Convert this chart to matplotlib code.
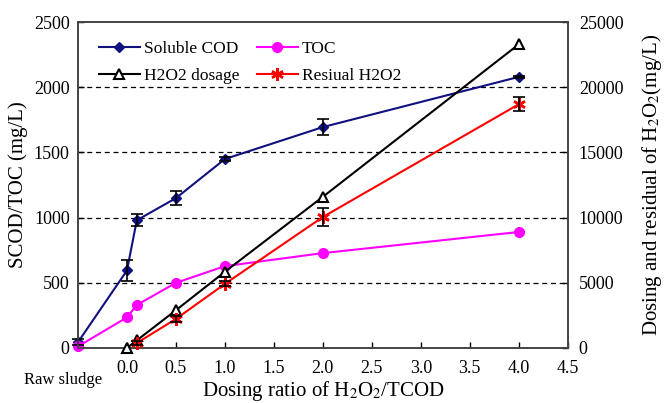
import matplotlib
matplotlib.use("Agg")
import matplotlib.pyplot as plt

plt.rcParams['font.family'] = ['Liberation Serif', 'DejaVu Serif']
plt.rcParams['mathtext.fontset'] = 'stix'

# data
x_cod = [-0.5, 0.0, 0.1, 0.5, 1.0, 2.0, 4.0]
scod = [45, 595, 980, 1150, 1450, 1695, 2080]
scod_err = [25, 80, 45, 55, 15, 60, 10]
toc = [12, 235, 330, 500, 628, 728, 890]
toc_err = [5, 10, 10, 8, 10, 10, 10]

x_dose = [0.0, 0.1, 0.5, 1.0, 2.0, 4.0]
dosage = [0, 580, 2900, 5850, 11600, 23300]
x_res = [0.1, 0.5, 1.0, 2.0, 4.0]
residual = [380, 2230, 4920, 10050, 18700]
res_err = [150, 200, 200, 700, 550]

xticks = [0.0, 0.5, 1.0, 1.5, 2.0, 2.5, 3.0, 3.5, 4.0, 4.5]
yticks_left = [0, 500, 1000, 1500, 2000, 2500]
yticks_right = [0, 5000, 10000, 15000, 20000, 25000]

fig = plt.figure(figsize=(6.64, 4.03), dpi=100)
ax = fig.add_axes([0.1175, 0.1365, 0.7375, 0.8085])
ax2 = ax.twinx()

# dashed grid behind everything
for v in yticks_left[1:-1]:
    ax.axhline(v, color='black', ls=(0, (4, 3)), lw=0.9, zorder=0)

l1, = ax.plot(x_cod, scod, color='#10107f', marker='D', ms=5, lw=1.5,
              clip_on=False, zorder=3, label='Soluble COD')
ax.errorbar(x_cod, scod, yerr=scod_err, fmt='none', ecolor='black',
            capsize=4, elinewidth=1.2, capthick=1.2, zorder=4, clip_on=False)
l2, = ax.plot(x_cod, toc, color='#ff00ff', marker='o', ms=7, lw=1.5,
              clip_on=False, zorder=3, label='TOC')
ax.errorbar(x_cod, toc, yerr=toc_err, fmt='none', ecolor='black',
            capsize=3, elinewidth=1.0, capthick=1.0, zorder=2, clip_on=False)

l3, = ax2.plot(x_dose, dosage, color='black', marker='^', ms=7, mfc='white',
               mew=1.5, lw=1.5, clip_on=False, zorder=3, label='H2O2 dosage')
l4, = ax2.plot(x_res, residual, color='#ff0000', marker=(6, 2, 0), ms=9,
               mew=1.8, lw=1.5, clip_on=False, zorder=4, label='Resiual H2O2')
ax2.errorbar(x_res, residual, yerr=res_err, fmt='none', ecolor='black',
             capsize=4, elinewidth=1.2, capthick=1.2, zorder=5)

ax.set_xlim(-0.5, 4.5)
ax.set_ylim(0, 2500)
ax2.set_ylim(0, 25000)
ax.set_xticks(xticks)
ax.set_xticklabels(['%.1f' % v for v in xticks])
ax.set_yticks(yticks_left)
ax2.set_yticks(yticks_right)

for a in (ax, ax2):
    a.tick_params(direction='in', labelsize=13, length=4, width=1)
    for s in a.spines.values():
        s.set_color('#444444')
        s.set_linewidth(1.2)
ax.tick_params(axis='x', pad=9)
ax.tick_params(axis='y', pad=6)
ax2.tick_params(axis='y', pad=8)

ax.text(-0.65, -0.075, 'Raw sludge', transform=ax.get_xaxis_transform(),
        ha='center', va='top', fontsize=12)
ax.set_xlabel('Dosing ratio of H$_2$O$_2$/TCOD', fontsize=15, labelpad=1)
ax.set_ylabel('SCOD/TOC (mg/L)', fontsize=15, labelpad=4)
ax2.set_ylabel('Dosing and residual of H$_2$O$_2$(mg/L)', fontsize=15, labelpad=12)

ax2.legend(handles=[l1, l3, l2, l4], ncol=2, frameon=False, loc='upper left',
           bbox_to_anchor=(0.01, 0.99), fontsize=12.5, handlelength=2.4,
           handletextpad=0.2, columnspacing=1.0, labelspacing=0.6)

fig.savefig('out.png', dpi=100)
